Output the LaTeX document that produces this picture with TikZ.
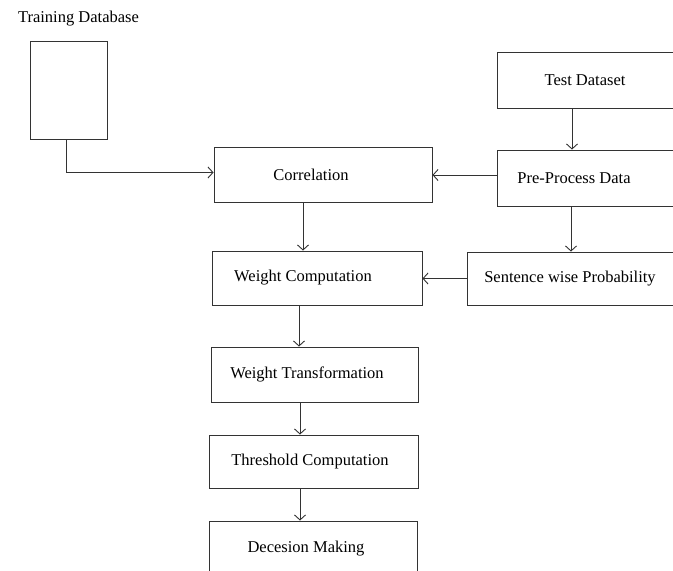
\documentclass[tikz,border=0pt]{standalone}
\usepackage{fontspec}
\setmainfont{Liberation Serif}
\usepackage{tikz}
\usetikzlibrary{calc,positioning,arrows.meta}

\begin{document}
\begin{tikzpicture}[x=1pt, y=-1pt,
    box/.style={draw=black!80, line width=0.9pt, rectangle, inner sep=0pt, font=\fontsize{16.5}{19}\selectfont},
    pull/.style={execute at begin node={\hspace*{#1}}},
    flow/.style={draw=black!80, line width=0.9pt, -{Straight Barb[length=5pt, width=11pt]}}]
    \useasboundingbox (0,0) rectangle (673,571);

    % Draw boxes
    \node[font=\fontsize{16.5}{19}\selectfont] (trainlbl) at (78.5,19) {Training Database};
    \node[box, minimum width=77pt, minimum height=98pt] (train) at (68.5,90) {};
    \node[box, pull=-24pt, minimum width=218pt, minimum height=55pt] (corr) at (323,174.5) {Correlation};
    \node[box, minimum width=176pt, minimum height=56pt] (test) at (585,80) {Test Dataset};
    \node[box, pull=-22pt, minimum width=176pt, minimum height=56pt] (pre) at (585,178) {Pre-Process Data};
    \node[box, minimum width=206pt, minimum height=53pt] (sent) at (570,278.5) {Sentence wise Probability};
    \node[box, pull=-28pt, minimum width=210pt, minimum height=54pt] (wcomp) at (317,278) {Weight Computation};
    \node[box, pull=-15pt, minimum width=207pt, minimum height=55pt] (wtrans) at (314.5,374.5) {Weight Transformation};
    \node[box, pull=-7pt, minimum width=209pt, minimum height=53pt] (thresh) at (313.5,461.5) {Threshold Computation};
    \node[box, pull=-14pt, minimum width=208pt, minimum height=55pt] (dec) at (313,548.5) {Decesion Making};

    % Draw arrows
    \draw[flow] ([xshift=-2pt]train.south) |- ([yshift=2pt]corr.west);
    \draw[flow] ([xshift=-13pt]test.south) -- ([xshift=-13pt]pre.north);
    \draw[flow] ([yshift=3pt]pre.west) -- ([yshift=-0.5pt]corr.east);
    \draw[flow] ([xshift=-14pt]pre.south) -- ([xshift=1pt]sent.north);
    \draw[flow] (sent.west) -- ([yshift=-0.5pt]wcomp.east);
    \draw[flow] ([xshift=-20pt]corr.south) -- ([xshift=-14pt]wcomp.north);
    \draw[flow] ([xshift=-18pt]wcomp.south) -- ([xshift=-15.5pt]wtrans.north);
    \draw[flow] ([xshift=-14.5pt]wtrans.south) -- ([xshift=-13.5pt]thresh.north);
    \draw[flow] ([xshift=-13.5pt]thresh.south) -- ([xshift=-13pt]dec.north);
\end{tikzpicture}
\end{document}
